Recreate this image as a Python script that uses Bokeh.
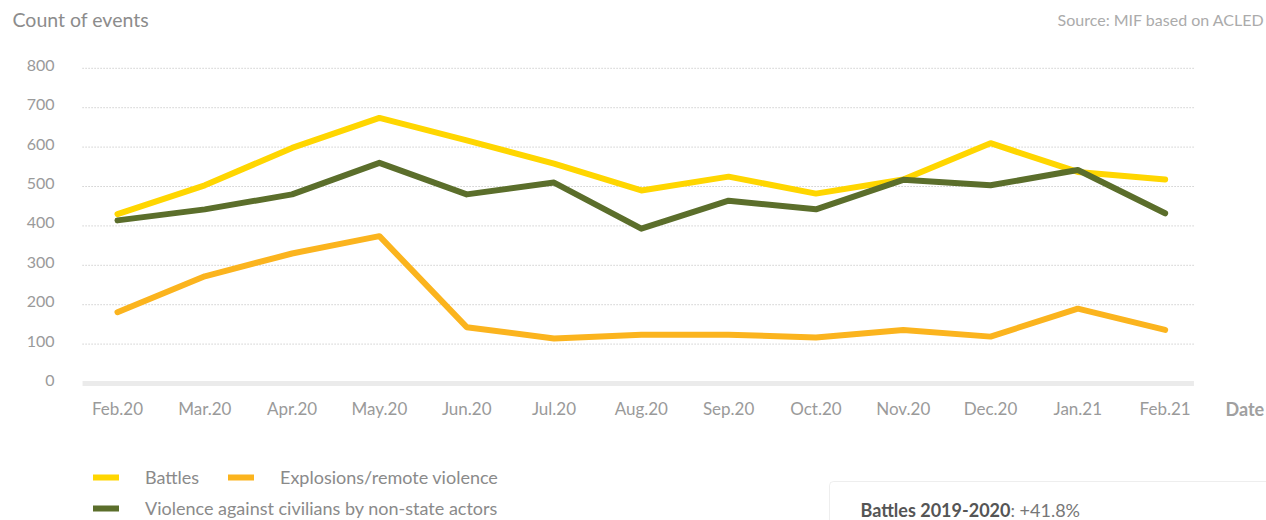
from bokeh.plotting import figure
from bokeh.models import (Label, LabelSet, Legend, LegendItem, BoxAnnotation, Range1d,
                          ColumnDataSource)
from bokeh.core.properties import value
from bokeh.embed import file_html
from bokeh.resources import INLINE

# ---- data ----
months = ["Feb.20", "Mar.20", "Apr.20", "May.20", "Jun.20", "Jul.20", "Aug.20",
          "Sep.20", "Oct.20", "Nov.20", "Dec.20", "Jan.21", "Feb.21"]
battles = [430, 503, 598, 674, 617, 558, 490, 525, 482, 518, 610, 537, 518]
explosions = [181, 272, 330, 374, 143, 114, 124, 124, 117, 136, 119, 190, 136]
violence = [414, 442, 480, 560, 480, 510, 393, 464, 442, 517, 503, 542, 432]
y_ticks = [0, 100, 200, 300, 400, 500, 600, 700, 800]

FONT = "Lato"
W, H = 1266, 520
x_idx = list(range(len(months)))

# plot-area extents (data units) for grid and baseline
X_LO, X_HI = -0.40, 12.33

p = figure(width=W, height=H, output_backend="svg", toolbar_location=None,
           x_range=Range1d(-1.340, 13.161), y_range=Range1d(-347.7, 972.1),
           x_axis_type=None, y_axis_type=None, min_border=0)
p.outline_line_color = None
p.grid.visible = False
p.background_fill_color = "white"
p.border_fill_color = "white"

# grid lines and baseline
n = len(y_ticks)
p.segment(x0=[X_LO] * (n - 1), x1=[X_HI] * (n - 1), y0=y_ticks[1:], y1=y_ticks[1:],
          line_color="#b8b8b8", line_width=1, line_dash="1 2")
p.segment(x0=[X_LO], x1=[X_HI], y0=[y_ticks[0]], y1=[y_ticks[0]],
          line_color="#ebebeb", line_width=5)

# tick labels
ysrc = ColumnDataSource(dict(y=y_ticks, t=[str(v) for v in y_ticks]))
p.add_layout(LabelSet(x=54, y="y", text="t", source=ysrc, x_units="screen",
                      y_offset=3, text_align="right", text_baseline="middle",
                      text_font=value(FONT), text_font_size=value("16px"),
                      text_color=value("#9a9a9a")))
xsrc = ColumnDataSource(dict(x=x_idx, t=months))
p.add_layout(LabelSet(x="x", y=112, text="t", source=xsrc, y_units="screen",
                      text_align="center", text_baseline="middle",
                      text_font=value(FONT), text_font_size=value("17px"),
                      text_color=value("#9a9a9a")))

# lines
c_bat, c_exp, c_vio = "#ffd600", "#fbb41e", "#5b6e2b"
r_bat = p.line(x_idx, battles, line_color=c_bat, line_width=6,
               line_cap="round", line_join="round")
r_exp = p.line(x_idx, explosions, line_color=c_exp, line_width=6,
               line_cap="round", line_join="round")
r_vio = p.line(x_idx, violence, line_color=c_vio, line_width=6,
               line_cap="round", line_join="round")

# legends
common = dict(padding=0, margin=0, border_line_color=None, background_fill_alpha=0,
              glyph_width=26, glyph_height=16, label_height=16, label_standoff=26,
              label_text_font=FONT, label_text_font_size="18px",
              label_text_color="#8a8a8a", spacing=0, orientation="horizontal")
for lbl, r, loc in [("Battles", r_bat, (93, 32)),
                    ("Explosions/remote violence", r_exp, (228, 32)),
                    ("Violence against civilians by non-state actors", r_vio, (93, 1))]:
    p.add_layout(Legend(items=[LegendItem(label=lbl, renderers=[r])], location=loc, **common))

# texts
def lab(text, x, y, size, color, align="left", style="normal"):
    p.add_layout(Label(x=x, y=y, x_units="screen", y_units="screen", text=text,
                       text_font=FONT, text_font_size=size, text_color=color,
                       text_align=align, text_baseline="middle", text_font_style=style))

lab("Count of events", 12, 501, "19.5px", "#8c8c8c")
lab("Source: MIF based on ACLED", 1264, 501, "16px", "#ababab", align="right")
lab("Date", 1225, 112, "18px", "#a0a0a0", style="bold")

# info box
box = BoxAnnotation(left=829, right=1300, top=39, bottom=-60,
                    left_units="screen", right_units="screen",
                    top_units="screen", bottom_units="screen",
                    fill_color="white", fill_alpha=1, line_color="#c8c8c8",
                    line_width=1, border_radius=4)
p.add_layout(box)
lab("Battles 2019-2020", 860, 11, "18px", "#555555", style="bold")
lab(": +41.8%", 1010, 11, "18px", "#777777")

open("out.html", "w").write(file_html(p, INLINE))
